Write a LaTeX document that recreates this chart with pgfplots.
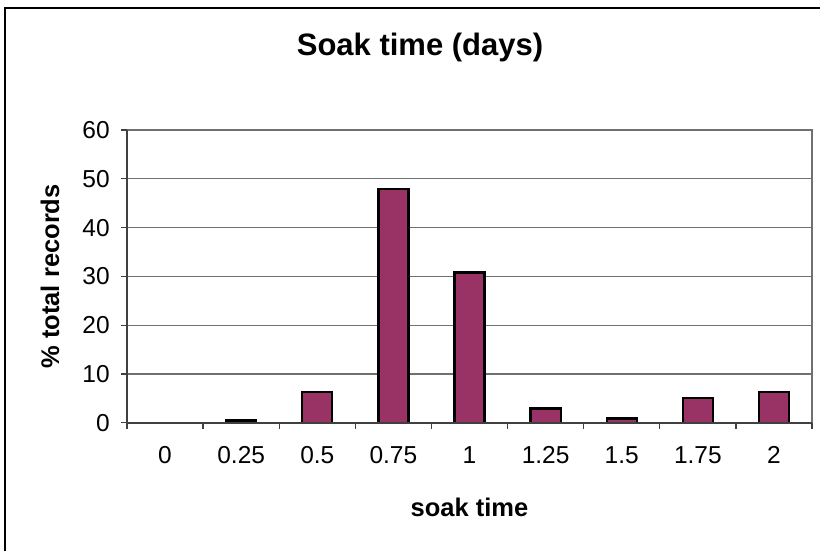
\documentclass[border=0pt]{standalone}
\usepackage{fontspec}
\setmainfont{Liberation Sans}
\usepackage{pgfplots}
\pgfplotsset{compat=1.18}
\definecolor{barplum}{HTML}{993366}
\definecolor{gridgray}{HTML}{707070}

\begin{document}
\begin{tikzpicture}
% frame round the whole chart; right and bottom edges are cut off in the reference
\begin{scope}
  \clip (0pt,0pt) rectangle (328pt,-220pt);
  \draw[black, line width=0.8pt] (1.8pt,-3pt) rectangle (340pt,-230pt);
\end{scope}
\node[font=\fontsize{12.4}{14}\selectfont\bfseries] at (168pt,-18.8pt) {Soak time (days)};
\begin{axis}[
  at={(50.8pt,-169.1pt)},
  anchor=south west,
  scale only axis,
  width=274pt,
  height=117.1pt,
  ybar,
  bar width=12pt,
  xmin=-0.5, xmax=8.5,
  ymin=0, ymax=60,
  xtick={0,...,8},
  xticklabels={0,0.25,0.5,0.75,1,1.25,1.5,1.75,2},
  minor xtick={-0.5,0.5,...,8.5},
  ytick={0,10,...,60},
  tick pos=left,
  tick align=outside,
  major tick length=2.4pt,
  minor tick length=2.4pt,
  major x tick style={draw=none},
  minor x tick style={draw=black!75, line width=0.5pt},
  y tick style={draw=black!75, line width=0.5pt},
  ymajorgrids,
  grid style={gridgray, line width=0.45pt},
  axis line style={draw=none},
  tick label style={font=\fontsize{9.8}{11}\selectfont},
  /pgf/number format/assume math mode=true,
  xticklabel style={yshift=-3.5pt},
  yticklabel style={xshift=-1pt},
  xlabel={soak time},
  ylabel={\% total records},
  every axis x label/.style={at={(axis description cs:0.5,0)}, yshift=-33.7pt, anchor=center,
    font=\fontsize{10.2}{12}\selectfont\bfseries},
  every axis y label/.style={at={(axis description cs:0,0.5)}, xshift=-30.8pt, rotate=90, anchor=center,
    font=\fontsize{10.2}{12}\selectfont\bfseries},
  clip=false,
]
\addplot[fill=barplum, draw=black, line width=0.9pt] coordinates {
  (1, 0.45)
  (2, 6.3)
  (3, 47.9)
  (4, 30.8)
  (5, 2.9)
  (6, 0.85)
  (7, 5.0)
  (8, 6.3)
};
% plot area border, axis lines on left and bottom
\draw[gridgray, line width=0.5pt] (rel axis cs:0,1) -- (rel axis cs:1,1) -- (rel axis cs:1,0);
\draw[black!75, line width=0.8pt] (rel axis cs:0,1) -- (rel axis cs:0,0) -- (rel axis cs:1,0);
\end{axis}
\useasboundingbox (0pt,0pt) rectangle (328pt,-220pt);
\end{tikzpicture}
\end{document}
